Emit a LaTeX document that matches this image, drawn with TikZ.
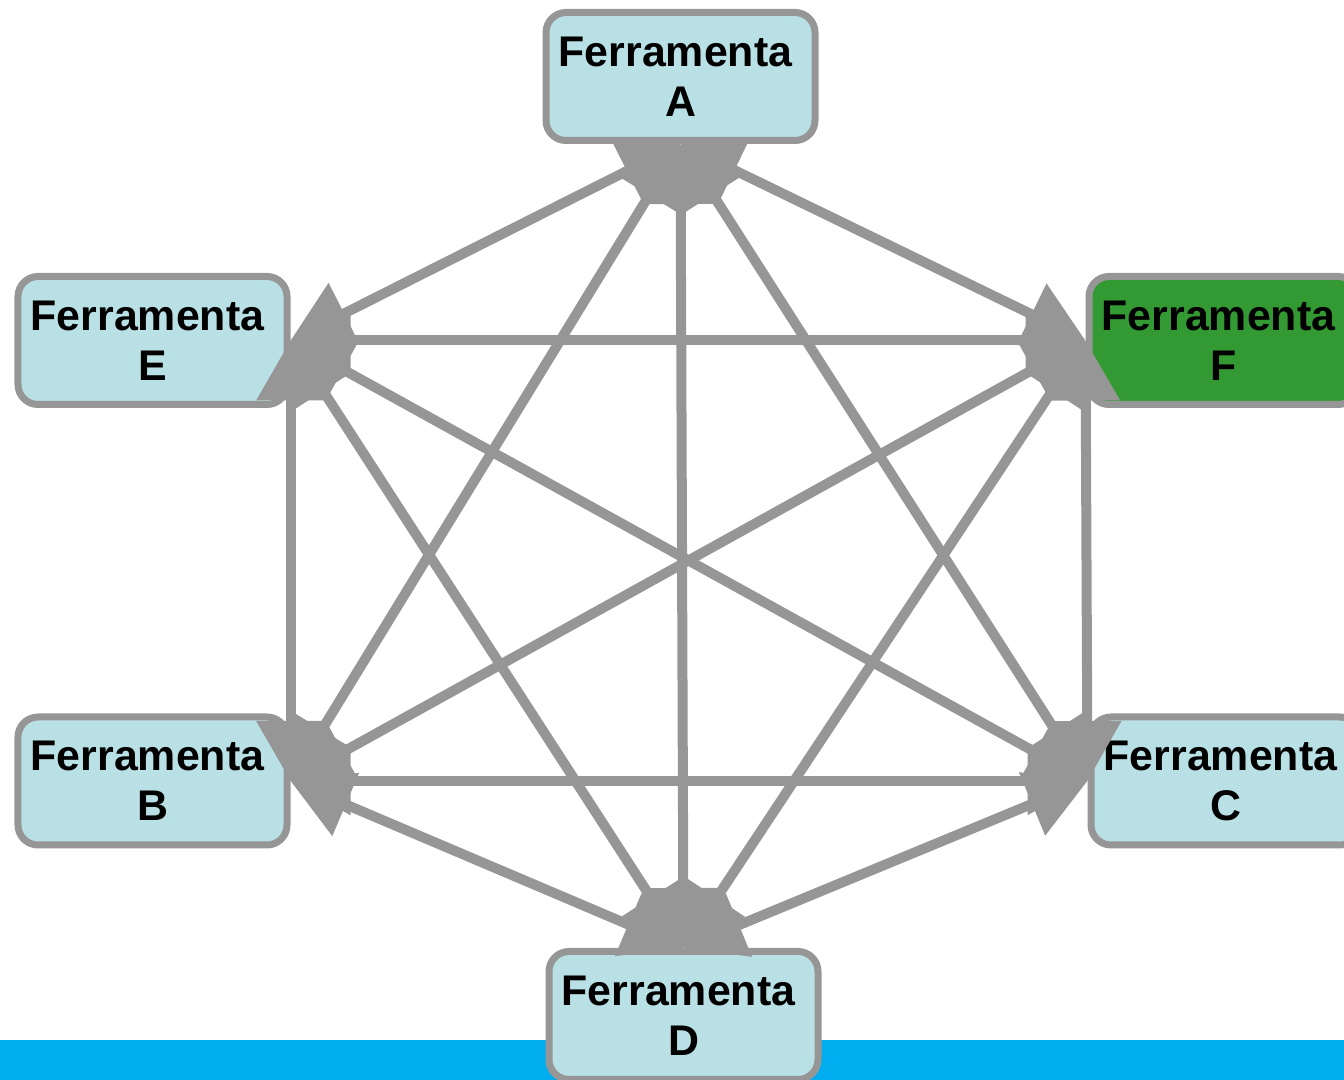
\documentclass[tikz,border=0pt]{standalone}
\usepackage{fontspec}
\setmainfont{Liberation Sans}
\usetikzlibrary{arrows.meta}
\definecolor{toolBlue}{RGB}{185,224,228}
\definecolor{linkGray}{RGB}{150,150,150}
\definecolor{toolGreen}{RGB}{51,153,51}
\definecolor{barBlue}{RGB}{0,173,238}

\begin{document}
\begin{tikzpicture}[scale=1.0, >={Triangle[length=0.6cm, width=0.66cm]},
    tool/.style={draw=linkGray, fill=toolBlue, line width=0.07cm, rounded corners=0.2cm,
      minimum width=2.69cm, minimum height=1.28cm, align=center, inner sep=0pt,
      font=\fontsize{12.2}{14.2}\selectfont\bfseries},
    link/.style={<->, line width=0.1cm, linkGray}]
    \useasboundingbox (0,0) rectangle (13.44,-10.80);
    \fill[barBlue] (0,-10.40) rectangle (13.44,-10.80);

    \node[tool] (A) at (6.805,-0.765) {Ferramenta\kern0.1cm\\A};
    \node[tool] (E) at (1.525,-3.405) {Ferramenta\kern0.1cm\\E};
    \node[tool, fill=toolGreen] (F) at (12.235,-3.405) {Ferramenta\kern0.1cm\\F};
    \node[tool] (B) at (1.525,-7.81) {Ferramenta\kern0.1cm\\B};
    \node[tool] (C) at (12.255,-7.81) {Ferramenta\kern0.1cm\\C};
    \node[tool] (D) at (6.835,-10.155) {Ferramenta\kern0.1cm\\D};

    \foreach \from/\to in {A.south/E.east, A.south/F.west, A.south/B.east, A.south/C.west,
        A.south/D.north, E.east/F.west, E.east/B.east, E.east/C.west, E.east/D.north,
        F.west/B.east, F.west/C.west, F.west/D.north, B.east/C.west, B.east/D.north,
        C.west/D.north}
      \draw[link] (\from) -- (\to);
\end{tikzpicture}
\end{document}
